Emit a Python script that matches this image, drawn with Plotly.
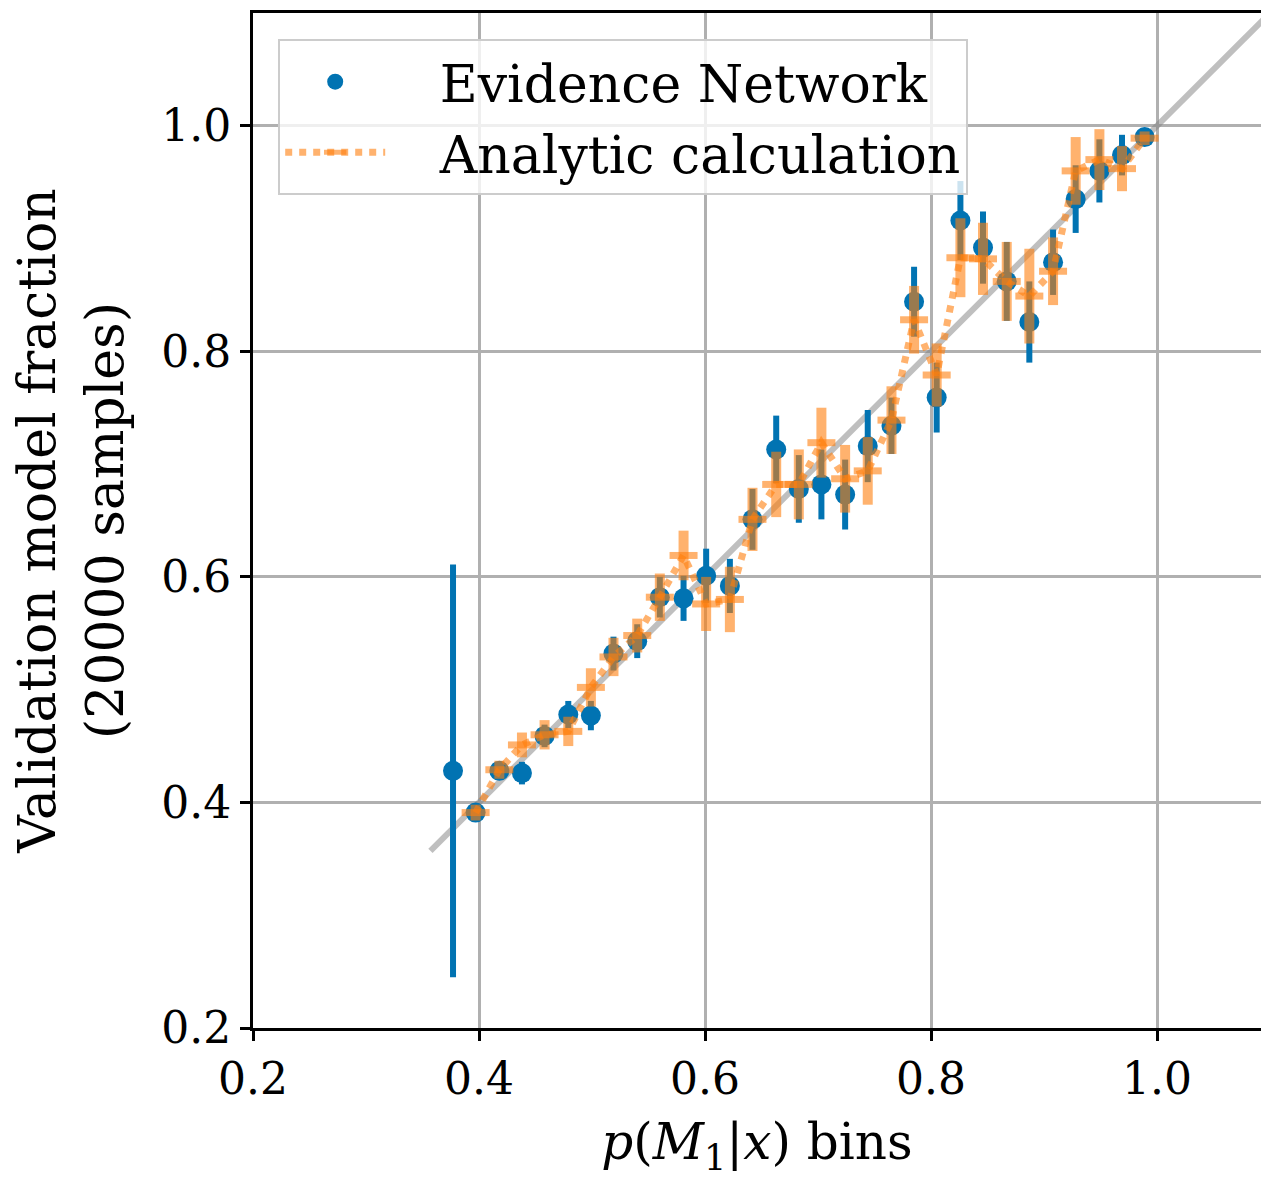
import plotly.graph_objects as go

# bin centres
bins = [0.377, 0.397, 0.418, 0.438, 0.458, 0.479, 0.499, 0.519, 0.540, 0.560,
        0.581, 0.601, 0.622, 0.642, 0.663, 0.683, 0.703, 0.724, 0.744, 0.765,
        0.785, 0.805, 0.826, 0.846, 0.867, 0.887, 0.908, 0.928, 0.949, 0.969, 0.989]

# Evidence Network
en_frac = [0.428, 0.391, 0.428, 0.426, 0.459, 0.478, 0.477, 0.532, 0.543, 0.582,
           0.581, 0.601, 0.592, 0.651, 0.713, 0.678, 0.682, 0.673, 0.716, 0.734,
           0.844, 0.759, 0.916, 0.892, 0.862, 0.826, 0.879, 0.935, 0.960, 0.974, 0.990]
en_err = [0.183, 0.007, 0.008, 0.010, 0.010, 0.012, 0.013, 0.015, 0.015, 0.018,
          0.020, 0.024, 0.024, 0.027, 0.030, 0.030, 0.031, 0.031, 0.032, 0.025,
          0.031, 0.031, 0.035, 0.032, 0.035, 0.036, 0.029, 0.030, 0.028, 0.018, 0.006]

# Analytic calculation
an_frac = [None, 0.391, 0.429, 0.451, 0.460, 0.463, 0.502, 0.529, 0.548, 0.582,
           0.619, 0.576, 0.580, 0.651, 0.682, 0.682, 0.719, 0.687, 0.694, 0.739,
           0.828, 0.779, 0.883, 0.882, 0.862, 0.849, 0.871, 0.960, 0.970, 0.962, 0.989]
an_err = [None, 0.007, 0.008, 0.011, 0.013, 0.013, 0.017, 0.017, 0.015, 0.021,
          0.022, 0.024, 0.029, 0.028, 0.029, 0.031, 0.031, 0.030, 0.030, 0.030,
          0.030, 0.028, 0.035, 0.032, 0.035, 0.042, 0.030, 0.030, 0.027, 0.020, 0.006]

diag = [0.357, 1.2]

xticks = [0.2, 0.4, 0.6, 0.8, 1.0]
yticks = [0.2, 0.4, 0.6, 0.8, 1.0]

BLUE = "#0173B2"
ORANGE_A = "rgba(255,127,14,0.6)"
FONT = "DejaVu Serif"
PAD = "&nbsp;&nbsp;&nbsp;"

fig = go.Figure()

fig.add_trace(go.Scatter(
    x=diag, y=diag, mode="lines",
    line=dict(color="rgba(128,128,128,0.5)", width=6),
    showlegend=False, hoverinfo="skip"))

fig.add_trace(go.Scatter(
    x=bins, y=en_frac, mode="markers", name=PAD + "Evidence Network",
    marker=dict(color=BLUE, size=20, symbol="circle", line=dict(width=0)),
    error_y=dict(type="data", array=en_err, color=BLUE, thickness=6, width=0)))

fig.add_trace(go.Scatter(
    x=bins, y=an_frac, mode="lines+markers", name=PAD + "Analytic calculation",
    line=dict(color=ORANGE_A, width=7, dash="7px,7px"),
    marker=dict(symbol="line-ew", size=20, color=ORANGE_A,
                line=dict(color=ORANGE_A, width=7)),
    error_y=dict(type="data", array=an_err, color=ORANGE_A, thickness=10, width=0),
    connectgaps=False))

fig.update_layout(
    width=1261, height=1182,
    margin=dict(l=253, r=0, t=13, b=154),
    plot_bgcolor="white", paper_bgcolor="white",
    font=dict(family=FONT, size=44, color="black"),
    legend=dict(x=0.025, y=0.974, xanchor="left", yanchor="top",
                bgcolor="rgba(255,255,255,0.8)", bordercolor="#cccccc",
                borderwidth=2, font=dict(size=52, family=FONT),
                itemwidth=100, tracegroupgap=0),
)

fig.update_xaxes(
    range=[0.2, 1.092], tickvals=xticks, ticktext=[f"{t:.1f}" for t in xticks],
    showgrid=True, gridcolor="#b0b0b0", gridwidth=2.5,
    showline=True, linecolor="black", linewidth=3, mirror=True,
    ticks="outside", ticklen=10, tickwidth=2.5, tickcolor="black",
    zeroline=False,
    title=dict(text="<i>p</i>(<i>M</i><sub>1</sub>|<i>x</i>) bins",
               font=dict(size=50, family=FONT), standoff=22))

fig.update_yaxes(
    range=[0.2, 1.1], tickvals=yticks, ticktext=[f"{t:.1f}" for t in yticks],
    showgrid=True, gridcolor="#b0b0b0", gridwidth=2.5,
    showline=True, linecolor="black", linewidth=3, mirror=False,
    ticks="outside", ticklen=10, tickwidth=2.5, tickcolor="black",
    zeroline=False,
    title=dict(text="Validation model fraction<br>(20000 samples)",
               font=dict(size=52, family=FONT), standoff=22))

fig.write_html("out.html")
